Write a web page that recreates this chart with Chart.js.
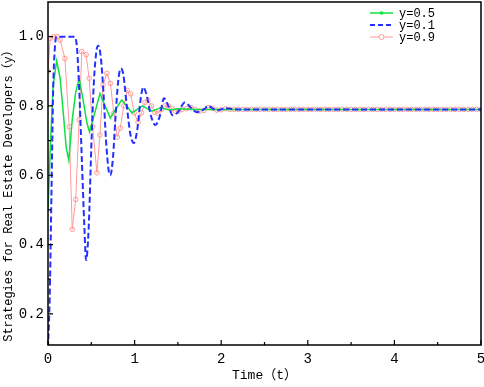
<!DOCTYPE html>
<html>
<head>
<meta charset="utf-8">
<script src="https://cdn.jsdelivr.net/npm/chart.js@4.4.0/dist/chart.umd.min.js"></script>
<style>
  body { margin: 0; background: #fff; }
  #wrap { width: 484px; height: 387px; }
</style>
</head>
<body>
<div id="wrap"><canvas id="myChart" width="484" height="387"></canvas></div>
<script>
// axis ticks
const xTicks = [0, 1, 2, 3, 4, 5];
const xMinor = [0.5, 1.5, 2.5, 3.5, 4.5];
const yTicks = [0.2, 0.4, 0.6, 0.8, 1.0];
const yMinor = [0.3, 0.5, 0.7, 0.9];

// y=0.5 (green)
const greenT = [0, 0.03, 0.06, 0.1, 0.14, 0.18, 0.21, 0.24, 0.28, 0.32,
  0.36, 0.41, 0.45, 0.48, 0.54, 0.6, 0.66, 0.72, 0.78, 0.85,
  0.91, 0.97, 1.03, 1.09, 1.2, 1.3, 1.4, 1.5, 1.7, 2,
  2.5, 3, 3.5, 4, 4.5, 5];
const greenY = [0.5, 0.7, 0.86, 0.93, 0.88, 0.77, 0.68, 0.644, 0.76, 0.84,
  0.88, 0.81, 0.75, 0.725, 0.78, 0.836, 0.80, 0.765, 0.79, 0.817,
  0.80, 0.78, 0.79, 0.80, 0.785, 0.795, 0.788, 0.792, 0.79, 0.79,
  0.79, 0.79, 0.79, 0.79, 0.79, 0.79];

// y=0.1 (blue, dashed)
const blueT = [0, 0.02, 0.04, 0.06, 0.08, 0.1, 0.2, 0.3, 0.33, 0.36,
  0.39, 0.42, 0.44, 0.47, 0.5, 0.53, 0.56, 0.58, 0.61, 0.64,
  0.67, 0.7, 0.72, 0.75, 0.78, 0.81, 0.84, 0.87, 0.91, 0.95,
  0.99, 1.03, 1.07, 1.1, 1.14, 1.19, 1.24, 1.29, 1.34, 1.39,
  1.44, 1.5, 1.58, 1.65, 1.72, 1.8, 1.85, 1.95, 2.05, 2.2,
  2.5, 3, 3.5, 4, 4.5, 5];
const blueY = [0.1, 0.25, 0.55, 0.85, 0.97, 1.0, 1.0, 1.0, 0.98, 0.85,
  0.65, 0.45, 0.355, 0.45, 0.68, 0.87, 0.96, 0.974, 0.94, 0.84,
  0.70, 0.615, 0.60, 0.65, 0.77, 0.87, 0.908, 0.89, 0.80, 0.72,
  0.693, 0.73, 0.82, 0.854, 0.83, 0.77, 0.745, 0.77, 0.822, 0.80,
  0.773, 0.782, 0.81, 0.795, 0.782, 0.79, 0.80, 0.787, 0.793, 0.79,
  0.79, 0.79, 0.79, 0.79, 0.79, 0.79];

// y=0.9 (pink, circles)
const pinkT = [0, 0.025, 0.065, 0.105, 0.14, 0.195, 0.245, 0.28, 0.32, 0.36,
  0.39, 0.44, 0.475, 0.515, 0.565, 0.6, 0.635, 0.68, 0.72, 0.76,
  0.8, 0.835, 0.875, 0.915, 0.955, 0.995, 1.04, 1.08, 1.12, 1.155,
  1.195, 1.235, 1.27, 1.31, 1.35, 1.39, 1.43, 1.47, 1.51, 1.55,
  1.6, 1.65, 1.7, 1.75, 1.8, 1.85, 1.9, 1.95, 2, 2.05,
  2.1, 2.15, 2.2, 2.25, 2.3, 2.35, 2.4, 2.45, 2.5, 2.55,
  2.6, 2.65, 2.7, 2.75, 2.8, 2.85, 2.9, 2.95, 3, 3.05,
  3.1, 3.15, 3.2, 3.25, 3.3, 3.35, 3.4, 3.45, 3.5, 3.55,
  3.6, 3.65, 3.7, 3.75, 3.8, 3.85, 3.9, 3.95, 4, 4.05,
  4.1, 4.15, 4.2, 4.25, 4.3, 4.35, 4.4, 4.45, 4.5, 4.55,
  4.6, 4.65, 4.7, 4.75, 4.8, 4.85, 4.9, 4.95, 5];
const pinkY = [0.9, 0.995, 1.0, 1.0, 0.99, 0.937, 0.74, 0.444, 0.53, 0.76,
  0.957, 0.948, 0.88, 0.74, 0.607, 0.716, 0.86, 0.894, 0.865, 0.78,
  0.71, 0.736, 0.80, 0.845, 0.835, 0.78, 0.753, 0.78, 0.81, 0.817,
  0.80, 0.782, 0.779, 0.79, 0.80, 0.80, 0.792, 0.785, 0.785, 0.79,
  0.792, 0.795, 0.79, 0.785, 0.787, 0.795, 0.793, 0.788, 0.789, 0.792,
  0.79, 0.79, 0.79, 0.79, 0.79, 0.79, 0.79, 0.79, 0.79, 0.79,
  0.79, 0.79, 0.79, 0.79, 0.79, 0.79, 0.79, 0.79, 0.79, 0.79,
  0.79, 0.79, 0.79, 0.79, 0.79, 0.79, 0.79, 0.79, 0.79, 0.79,
  0.79, 0.79, 0.79, 0.79, 0.79, 0.79, 0.79, 0.79, 0.79, 0.79,
  0.79, 0.79, 0.79, 0.79, 0.79, 0.79, 0.79, 0.79, 0.79, 0.79,
  0.79, 0.79, 0.79, 0.79, 0.79, 0.79, 0.79, 0.79, 0.79];

const yTitle = 'Strategies for Real Estate Developers（y）';

const GREEN = '#10e040';
const BLUE = '#2330ff';
const PINK = '#ff9a9a';
const MONO = '"Liberation Mono", "Noto Sans CJK SC", monospace';

function pts(ts, ys) {
    return ts.map((t, i) => ({ x: t, y: ys[i] }));
}

// frame, inward ticks, y title and legend
const extras = {
    id: 'extras',
    afterDraw(chart) {
        const { ctx, chartArea: a, scales: { x, y } } = chart;
        ctx.save();
        ctx.strokeStyle = '#000';
        ctx.lineWidth = 1.5;
        ctx.strokeRect(a.left, a.top, a.right - a.left, a.bottom - a.top);

        ctx.lineWidth = 1.2;
        ctx.beginPath();
        xTicks.forEach(v => { const p = x.getPixelForValue(v); ctx.moveTo(p, a.bottom); ctx.lineTo(p, a.bottom - 5); });
        xMinor.forEach(v => { const p = x.getPixelForValue(v); ctx.moveTo(p, a.bottom); ctx.lineTo(p, a.bottom - 3); });
        yTicks.forEach(v => { const p = y.getPixelForValue(v); ctx.moveTo(a.left, p); ctx.lineTo(a.left + 5, p); });
        yMinor.forEach(v => { const p = y.getPixelForValue(v); ctx.moveTo(a.left, p); ctx.lineTo(a.left + 3, p); });
        ctx.stroke();

        // y title
        ctx.save();
        ctx.translate(9, 193);
        ctx.rotate(-Math.PI / 2);
        ctx.font = '12px ' + MONO;
        ctx.fillStyle = '#000';
        ctx.textAlign = 'center';
        ctx.textBaseline = 'middle';
        ctx.fillText(yTitle, 0, 0);
        ctx.restore();

        // legend
        const items = [
            { label: 'y=0.5', color: GREEN, dash: [], mark: 'square', w: 1.5 },
            { label: 'y=0.1', color: BLUE, dash: [5, 3], mark: null, w: 2 },
            { label: 'y=0.9', color: PINK, dash: [], mark: 'circle', w: 1 }
        ];
        ctx.font = '12px ' + MONO;
        ctx.textBaseline = 'middle';
        items.forEach((it, i) => {
            const ly = 13 + i * 12;
            ctx.strokeStyle = it.color;
            ctx.lineWidth = it.w;
            ctx.setLineDash(it.dash);
            ctx.beginPath();
            ctx.moveTo(370, ly);
            ctx.lineTo(393, ly);
            ctx.stroke();
            ctx.setLineDash([]);
            if (it.mark === 'square') {
                ctx.fillStyle = it.color;
                ctx.fillRect(380, ly - 1.5, 3, 3);
            } else if (it.mark === 'circle') {
                ctx.fillStyle = '#fff';
                ctx.beginPath();
                ctx.arc(381.5, ly, 2.5, 0, Math.PI * 2);
                ctx.fill();
                ctx.stroke();
            }
            ctx.fillStyle = '#000';
            ctx.fillText(it.label, 399, ly + 1);
        });
        ctx.restore();
    }
};

const ctx = document.getElementById('myChart').getContext('2d');
const myChart = new Chart(ctx, {
    type: 'line',
    data: {
        datasets: [
            {
                label: 'y=0.1', data: pts(blueT, blueY), borderColor: BLUE, borderWidth: 2,
                borderDash: [6, 3], pointRadius: 0, cubicInterpolationMode: 'monotone', fill: false
            },
            {
                label: 'y=0.5', data: pts(greenT, greenY), borderColor: GREEN, borderWidth: 1.5,
                pointRadius: 0, tension: 0, fill: false
            },
            {
                label: 'y=0.9', data: pts(pinkT, pinkY), borderColor: PINK, borderWidth: 1,
                pointRadius: 2.3, pointStyle: 'circle', pointBorderColor: PINK,
                pointBackgroundColor: 'rgba(255,255,255,0)', pointBorderWidth: 1, tension: 0, fill: false
            }
        ]
    },
    plugins: [extras],
    options: {
        responsive: false,
        animation: false,
        layout: { autoPadding: false, padding: { top: 2, right: 3, left: 0, bottom: 0 } },
        plugins: { legend: { display: false }, tooltip: { enabled: false } },
        scales: {
            x: {
                type: 'linear', min: 0, max: 5,
                grid: { display: false, drawTicks: false },
                border: { display: false },
                afterBuildTicks: s => { s.ticks = xTicks.map(v => ({ value: v })); },
                afterFit: s => { s.height = 42; s.paddingLeft = 0; s.paddingRight = 0; },
                ticks: { color: '#000', font: { family: MONO, size: 14 }, padding: 6, maxRotation: 0 },
                title: { display: true, text: 'Time（t）', color: '#000', font: { family: MONO, size: 13 }, padding: { top: 0, bottom: 4 } }
            },
            y: {
                min: 0.11, max: 1.1,
                grid: { display: false, drawTicks: false },
                border: { display: false },
                afterBuildTicks: s => { s.ticks = yTicks.map(v => ({ value: v })); },
                afterFit: s => { s.width = 48; s.paddingTop = 0; s.paddingBottom = 0; },
                ticks: { color: '#000', font: { family: MONO, size: 14 }, padding: 4, callback: v => v.toFixed(1) },
                title: { display: false }
            }
        }
    }
});
</script>
</body>
</html>
